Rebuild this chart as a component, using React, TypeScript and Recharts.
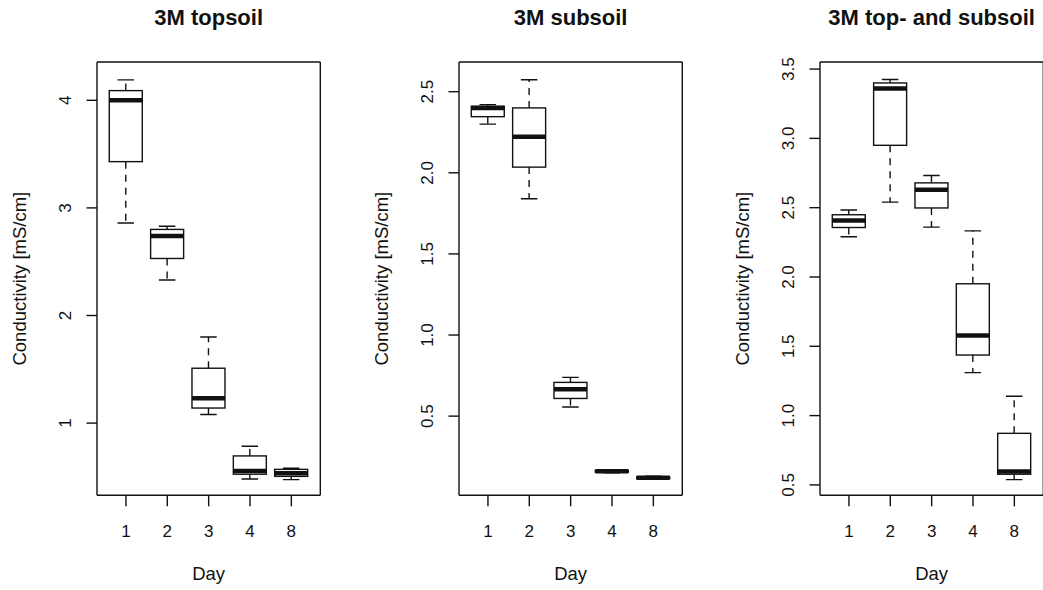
import { BarChart, Bar, XAxis, YAxis } from "recharts";

const days = ["1", "2", "3", "4", "8"];

// 3M topsoil
const topMin = [2.86, 2.33, 1.08, 0.48, 0.475];
const topQ1 = [3.43, 2.53, 1.14, 0.525, 0.505];
const topMed = [4.0, 2.74, 1.23, 0.555, 0.535];
const topQ3 = [4.09, 2.8, 1.51, 0.695, 0.57];
const topMax = [4.19, 2.83, 1.8, 0.785, 0.58];
const topTicks = [1, 2, 3, 4];

// 3M subsoil
const subMin = [2.3, 1.84, 0.556, 0.15, 0.11];
const subQ1 = [2.346, 2.035, 0.609, 0.155, 0.115];
const subMed = [2.4, 2.222, 0.665, 0.16, 0.12];
const subQ3 = [2.41, 2.4, 0.708, 0.165, 0.125];
const subMax = [2.42, 2.574, 0.739, 0.17, 0.13];
const subTicks = [0.5, 1, 1.5, 2, 2.5];

// 3M top- and subsoil
const bothMin = [2.29, 2.54, 2.36, 1.31, 0.538];
const bothQ1 = [2.357, 2.95, 2.498, 1.437, 0.577];
const bothMed = [2.408, 3.36, 2.63, 1.578, 0.596];
const bothQ3 = [2.449, 3.4, 2.679, 1.951, 0.872];
const bothMax = [2.483, 3.425, 2.732, 2.333, 1.14];
const bothTicks = [0.5, 1, 1.5, 2, 2.5, 3, 3.5];

const INK = "#111";
const FONT = "'Liberation Sans', Arial, sans-serif";
const LW = 1.4;

// R-style box: whiskers dashed, staples solid, thick median
function BoxShape(props: any) {
  const { x, y, width, height, payload } = props;
  const top = Math.min(y, y + height);
  const bottom = Math.max(y, y + height);
  const span = payload.max - payload.min;
  const toY = (v: number) =>
    span === 0 ? top : bottom - ((v - payload.min) / span) * (bottom - top);
  const cx = x + width / 2;
  const cap = width / 4;
  const yQ1 = toY(payload.q1);
  const yQ3 = toY(payload.q3);
  const yMed = toY(payload.med);
  return (
    <g>
      <line x1={cx} x2={cx} y1={yQ3} y2={top} stroke={INK} strokeWidth={LW} strokeDasharray="7 6" />
      <line x1={cx} x2={cx} y1={yQ1} y2={bottom} stroke={INK} strokeWidth={LW} strokeDasharray="7 6" />
      <line x1={cx - cap} x2={cx + cap} y1={top} y2={top} stroke={INK} strokeWidth={LW} />
      <line x1={cx - cap} x2={cx + cap} y1={bottom} y2={bottom} stroke={INK} strokeWidth={LW} />
      <rect x={x} y={yQ3} width={width} height={Math.max(yQ1 - yQ3, 0.5)} fill="#fff" stroke={INK} strokeWidth={LW} />
      <line x1={x} x2={x + width} y1={yMed} y2={yMed} stroke={INK} strokeWidth={4.5} />
    </g>
  );
}

function XTick(props: any) {
  const { x, y, payload } = props;
  return (
    <text x={x} y={y} dy="0.71em" textAnchor="middle" fontSize={17} fontFamily={FONT} fill={INK}>
      {payload.value}
    </text>
  );
}

function YTick(props: any) {
  const { x, y, payload, digits } = props;
  return (
    <text
      x={x}
      y={y}
      transform={`rotate(-90, ${x}, ${y})`}
      textAnchor="middle"
      fontSize={17}
      fontFamily={FONT}
      fill={INK}
    >
      {Number(payload.value).toFixed(digits)}
    </text>
  );
}

interface PanelProps {
  title: string;
  left: number;
  min: number[];
  q1: number[];
  med: number[];
  q3: number[];
  max: number[];
  domain: [number, number];
  ticks: number[];
  digits: number;
}

function Panel({ title, left, min, q1, med, q3, max, domain, ticks, digits }: PanelProps) {
  const rows = days.map((day, i) => ({
    day,
    min: min[i],
    q1: q1[i],
    med: med[i],
    q3: q3[i],
    max: max[i],
  }));

  return (
    <div style={{ position: "absolute", left, top: 0 }}>
      <BarChart
        width={348}
        height={590}
        data={rows}
        margin={{ top: 61, right: 26.7, bottom: 34.7, left: 0 }}
      >
        <XAxis
          dataKey="day"
          height={60}
          padding={{ left: 8.27, right: 8.27 }}
          tickSize={11}
          tickMargin={18.6}
          tick={<XTick />}
          axisLine={{ stroke: INK, strokeWidth: LW }}
          tickLine={{ stroke: INK, strokeWidth: LW }}
          label={(p: any) => (
            <text
              x={p.viewBox.x + p.viewBox.width / 2}
              y={p.viewBox.y + 84.5}
              textAnchor="middle"
              fontSize={18.5}
              fontFamily={FONT}
              fill={INK}
            >
              Day
            </text>
          )}
        />
        {/* top frame line, carries the panel title */}
        <XAxis
          xAxisId="top"
          orientation="top"
          dataKey="day"
          height={1}
          tick={false}
          tickLine={false}
          axisLine={{ stroke: INK, strokeWidth: LW }}
          label={(p: any) => (
            <text
              x={p.viewBox.x + p.viewBox.width / 2}
              y={p.viewBox.y + p.viewBox.height - 37}
              textAnchor="middle"
              fontSize={22}
              fontWeight="bold"
              fontFamily={FONT}
              fill={INK}
            >
              {title}
            </text>
          )}
        />
        <YAxis
          type="number"
          width={97}
          domain={domain}
          ticks={ticks}
          allowDataOverflow
          tickSize={10.5}
          tickMargin={15}
          tick={<YTick digits={digits} />}
          axisLine={{ stroke: INK, strokeWidth: LW }}
          tickLine={{ stroke: INK, strokeWidth: LW }}
          label={(p: any) => {
            const lx = p.viewBox.x + p.viewBox.width - 71;
            const ly = p.viewBox.y + p.viewBox.height / 2;
            return (
              <text
                x={lx}
                y={ly}
                transform={`rotate(-90, ${lx}, ${ly})`}
                textAnchor="middle"
                fontSize={18.5}
                fontFamily={FONT}
                fill={INK}
              >
                Conductivity [mS/cm]
              </text>
            );
          }}
        />
        {/* right frame line */}
        <YAxis
          yAxisId="r"
          orientation="right"
          type="number"
          width={1}
          domain={domain}
          ticks={ticks}
          allowDataOverflow
          tick={false}
          tickLine={false}
          axisLine={{ stroke: INK, strokeWidth: LW }}
        />
        <Bar
          dataKey={(d: any) => [d.min, d.max]}
          barSize={33}
          shape={<BoxShape />}
          isAnimationActive={false}
        />
      </BarChart>
    </div>
  );
}

export default function App() {
  return (
    <div
      style={{
        position: "absolute",
        left: 0,
        top: 0,
        width: 1043,
        height: 590,
        overflow: "hidden",
        background: "#fff",
      }}
    >
      <Panel
        title="3M topsoil"
        left={0}
        min={topMin}
        q1={topQ1}
        med={topMed}
        q3={topQ3}
        max={topMax}
        domain={[0.329, 4.356]}
        ticks={topTicks}
        digits={0}
      />
      <Panel
        title="3M subsoil"
        left={362.3}
        min={subMin}
        q1={subQ1}
        med={subMed}
        q3={subQ3}
        max={subMax}
        domain={[0.012, 2.683]}
        ticks={subTicks}
        digits={1}
      />
      <Panel
        title="3M top- and subsoil"
        left={723}
        min={bothMin}
        q1={bothQ1}
        med={bothMed}
        q3={bothQ3}
        max={bothMax}
        domain={[0.425, 3.551]}
        ticks={bothTicks}
        digits={1}
      />
    </div>
  );
}
